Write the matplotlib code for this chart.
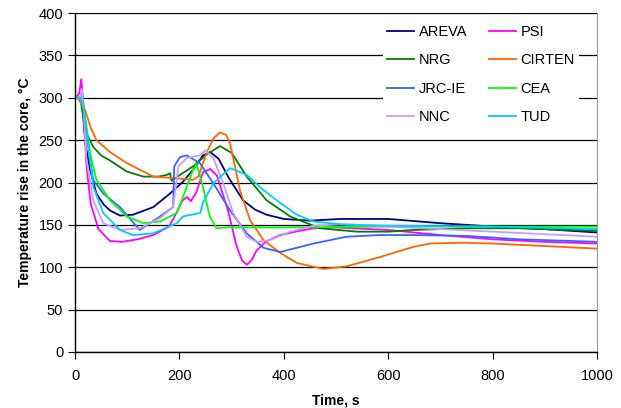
import matplotlib
matplotlib.use("Agg")
import matplotlib.pyplot as plt

plt.rcParams['font.family'] = ['Liberation Sans', 'DejaVu Sans']

areva_t = [0, 10, 14, 20, 29, 41, 55, 67, 86, 111, 150, 182, 207, 226, 245, 259, 275, 295, 322, 345, 367, 400, 450, 508, 600, 700, 800, 900, 1000]
areva_T = [300, 300, 290, 245, 215, 187, 174, 167, 161, 162, 171, 187, 201, 215, 232, 236, 228, 205, 179, 168, 162, 157, 155, 157, 157, 152, 148, 145, 141]

psi_t = [0, 8, 12, 16, 22, 30, 45, 67, 90, 120, 150, 180, 195, 205, 214, 222, 232, 245, 259, 272, 293, 310, 320, 329, 338, 348, 365, 393, 430, 457, 500, 600, 700, 800, 900, 1000]
psi_T = [300, 305, 322, 290, 220, 175, 145, 131, 130, 133, 138, 148, 165, 178, 183, 178, 188, 212, 216, 208, 167, 124, 108, 103, 108, 120, 130, 138, 143, 146, 147, 144, 138, 133, 130, 128]

nrg_t = [0, 10, 15, 22, 35, 50, 67, 99, 131, 160, 176, 182, 185, 201, 226, 252, 278, 300, 329, 367, 412, 469, 540, 600, 648, 750, 850, 1000]
nrg_T = [300, 300, 280, 258, 242, 232, 226, 213, 207, 207, 209, 211, 202, 209, 219, 233, 243, 235, 207, 179, 160, 146, 142, 142, 144, 146, 146, 143]

cirten_t = [0, 5, 10, 19, 30, 41, 67, 99, 131, 150, 195, 226, 236, 252, 265, 278, 290, 297, 316, 335, 361, 393, 425, 476, 520, 584, 648, 680, 743, 800, 900, 1000]
cirten_T = [300, 300, 295, 286, 265, 250, 236, 223, 213, 207, 205, 203, 207, 235, 252, 259, 256, 246, 191, 156, 132, 117, 105, 98, 101, 112, 124, 128, 129, 128, 125, 122]

jrc_t = [0, 10, 14, 18, 29, 35, 54, 86, 124, 163, 188, 190, 201, 214, 239, 265, 297, 329, 361, 393, 457, 520, 584, 648, 750, 850, 1000]
jrc_T = [300, 300, 305, 280, 226, 203, 187, 171, 144, 160, 171, 219, 230, 232, 223, 199, 167, 140, 123, 118, 128, 136, 138, 138, 137, 133, 130]

cea_t = [0, 10, 16, 22, 29, 41, 67, 99, 131, 163, 195, 207, 226, 233, 245, 258, 271, 290, 400, 600, 800, 1000]
cea_T = [300, 300, 290, 266, 234, 203, 179, 160, 152, 154, 164, 183, 215, 222, 195, 160, 146, 147, 147, 148, 148, 148]

nnc_t = [0, 10, 13, 16, 22, 35, 54, 86, 124, 163, 188, 198, 214, 240, 249, 265, 284, 303, 329, 348, 374, 412, 457, 520, 600, 700, 800, 900, 1000]
nnc_T = [300, 300, 310, 290, 226, 179, 152, 144, 146, 158, 171, 219, 229, 232, 238, 229, 199, 164, 136, 130, 132, 142, 149, 151, 148, 145, 142, 139, 136]

tud_t = [0, 10, 16, 25, 35, 54, 86, 111, 150, 195, 207, 240, 245, 265, 297, 329, 361, 393, 425, 457, 520, 600, 800, 1000]
tud_T = [300, 300, 290, 246, 195, 164, 144, 138, 140, 152, 160, 164, 176, 199, 217, 209, 191, 176, 162, 154, 150, 149, 148, 145]

series = [
    ('AREVA', areva_t, areva_T, '#000080'),
    ('PSI', psi_t, psi_T, '#FF00FF'),
    ('NRG', nrg_t, nrg_T, '#008000'),
    ('CIRTEN', cirten_t, cirten_T, '#FF6600'),
    ('JRC-IE', jrc_t, jrc_T, '#3366FF'),
    ('CEA', cea_t, cea_T, '#00FF00'),
    ('NNC', nnc_t, nnc_T, '#CC99FF'),
    ('TUD', tud_t, tud_T, '#00CCFF'),
]

fig = plt.figure(figsize=(6.21, 4.08), dpi=100)
ax = fig.add_axes([0.1208, 0.1373, 0.8406, 0.8307])

handles = {}
for name, t, T, c in series:
    line, = ax.plot(t, T, color=c, lw=1.3, label=name)
    handles[name] = line

ax.set_xlim(0, 1000)
ax.set_ylim(0, 400)
ax.set_xticks(range(0, 1001, 200))
ax.set_yticks(range(0, 401, 50))
ax.yaxis.grid(True, color='black', lw=0.9)
ax.set_axisbelow(True)
ax.tick_params(labelsize=10.5, direction='out', length=5, width=0.8)
ax.tick_params(axis='x', pad=7)

ax.spines['top'].set_visible(False)
ax.spines['right'].set_color('#999999')
ax.spines['left'].set_linewidth(1)
ax.spines['bottom'].set_linewidth(1)

ax.set_xlabel('Time, s', fontsize=10, fontweight='bold', labelpad=8)
ax.set_ylabel('Temperature rise in the core, °C', fontsize=10, fontweight='bold', labelpad=5)

# two columns, filled by column
order = ['AREVA', 'NRG', 'JRC-IE', 'NNC', 'PSI', 'CIRTEN', 'CEA', 'TUD']
leg = ax.legend([handles[n] for n in order], order, ncol=2, loc='upper left',
                bbox_to_anchor=(0.576, 1.0), frameon=True, fancybox=False,
                edgecolor='none', framealpha=1, fontsize=10.5,
                handlelength=1.85, handletextpad=0.3, columnspacing=1.5,
                labelspacing=1.0, borderpad=0.3)

fig.savefig('out.png', dpi=100)
